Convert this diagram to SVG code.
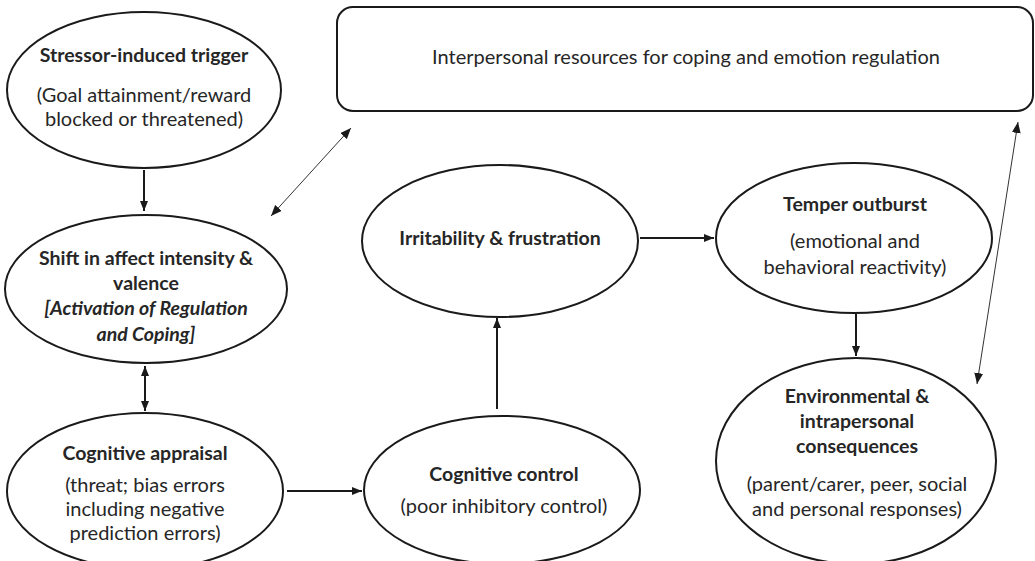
<svg xmlns="http://www.w3.org/2000/svg" width="1035" height="561" viewBox="0 0 1035 561">
  <style>
    .shape { fill: #ffffff; stroke: #1a1a1a; stroke-width: 2; }
    .conn { fill: none; stroke: #1a1a1a; stroke-width: 2; }
    .thin { fill: none; stroke: #333333; stroke-width: 1; }
    text { font-family: Lato, "Open Sans", "Liberation Sans", sans-serif; font-size: 20px; fill: #262626; text-anchor: middle; }
    .b { font-weight: bold; font-size: 19.5px; }
    .bi { font-weight: bold; font-style: italic; font-size: 19.5px; }
  </style>
  <defs>
    <marker id="head" viewBox="0 0 10 8" refX="10" refY="4" markerWidth="10" markerHeight="8" markerUnits="userSpaceOnUse" orient="auto-start-reverse">
      <path d="M0,0 L10,4 L0,8 Z" fill="#1a1a1a"/>
    </marker>
    <marker id="headThin" viewBox="0 0 10 8" refX="10" refY="4" markerWidth="11" markerHeight="9" markerUnits="userSpaceOnUse" orient="auto-start-reverse">
      <path d="M0,0 L10,4 L0,8 Z" fill="#1a1a1a"/>
    </marker>
  </defs>

  <!-- connectors -->
  <g id="connectors">
    <line class="conn" x1="144" y1="170" x2="144" y2="211" marker-end="url(#head)"/>
    <line class="conn" x1="145" y1="366" x2="145" y2="411" marker-start="url(#head)" marker-end="url(#head)"/>
    <line class="conn" x1="287" y1="491" x2="362" y2="491" marker-end="url(#head)"/>
    <line class="conn" x1="497" y1="409" x2="497" y2="318" marker-end="url(#head)"/>
    <line class="conn" x1="640" y1="238" x2="714" y2="238" marker-end="url(#head)"/>
    <line class="conn" x1="856" y1="314" x2="856" y2="356" marker-end="url(#head)"/>
    <line class="thin" x1="271" y1="216" x2="351" y2="128" marker-start="url(#headThin)" marker-end="url(#headThin)"/>
    <line class="thin" x1="1018" y1="122" x2="977" y2="384" marker-start="url(#headThin)" marker-end="url(#headThin)"/>
  </g>

  <g id="interpersonal-resources">
    <rect class="shape" x="337" y="7" width="696" height="104" rx="16" ry="16"/>
    <text x="686" y="64">Interpersonal resources for coping and emotion regulation</text>
  </g>

  <g id="stressor-trigger">
    <ellipse class="shape" cx="144" cy="90" rx="137" ry="78"/>
    <text class="b" x="144" y="62">Stressor-induced trigger</text>
    <text x="144" y="102">(Goal attainment/reward</text>
    <text x="144" y="126">blocked or threatened)</text>
  </g>

  <g id="affect-shift">
    <ellipse class="shape" cx="146" cy="289" rx="141" ry="74"/>
    <text class="b" x="146" y="265">Shift in affect intensity &amp;</text>
    <text class="b" x="146" y="290">valence</text>
    <text class="bi" x="146" y="315">[Activation of Regulation</text>
    <text class="bi" x="146" y="341">and Coping]</text>
  </g>

  <g id="cognitive-appraisal">
    <ellipse class="shape" cx="145" cy="491" rx="138" ry="78"/>
    <text class="b" x="145" y="460">Cognitive appraisal</text>
    <text x="145" y="492">(threat; bias errors</text>
    <text x="145" y="516">including negative</text>
    <text x="145" y="540">prediction errors)</text>
  </g>

  <g id="cognitive-control">
    <ellipse class="shape" cx="502" cy="490" rx="138" ry="74"/>
    <text class="b" x="504" y="481">Cognitive control</text>
    <text x="504" y="513">(poor inhibitory control)</text>
  </g>

  <g id="irritability">
    <ellipse class="shape" cx="500" cy="241" rx="138" ry="76"/>
    <text class="b" x="500" y="245">Irritability &amp; frustration</text>
  </g>

  <g id="temper-outburst">
    <ellipse class="shape" cx="854" cy="238" rx="138" ry="75"/>
    <text class="b" x="855" y="211">Temper outburst</text>
    <text x="855" y="248">(emotional and</text>
    <text x="855" y="274">behavioral reactivity)</text>
  </g>

  <g id="consequences">
    <ellipse class="shape" cx="856" cy="461" rx="140" ry="103"/>
    <text class="b" x="857" y="403">Environmental &amp;</text>
    <text class="b" x="857" y="428">intrapersonal</text>
    <text class="b" x="857" y="453">consequences</text>
    <text x="857" y="491">(parent/carer, peer, social</text>
    <text x="857" y="516">and personal responses)</text>
  </g>
</svg>
